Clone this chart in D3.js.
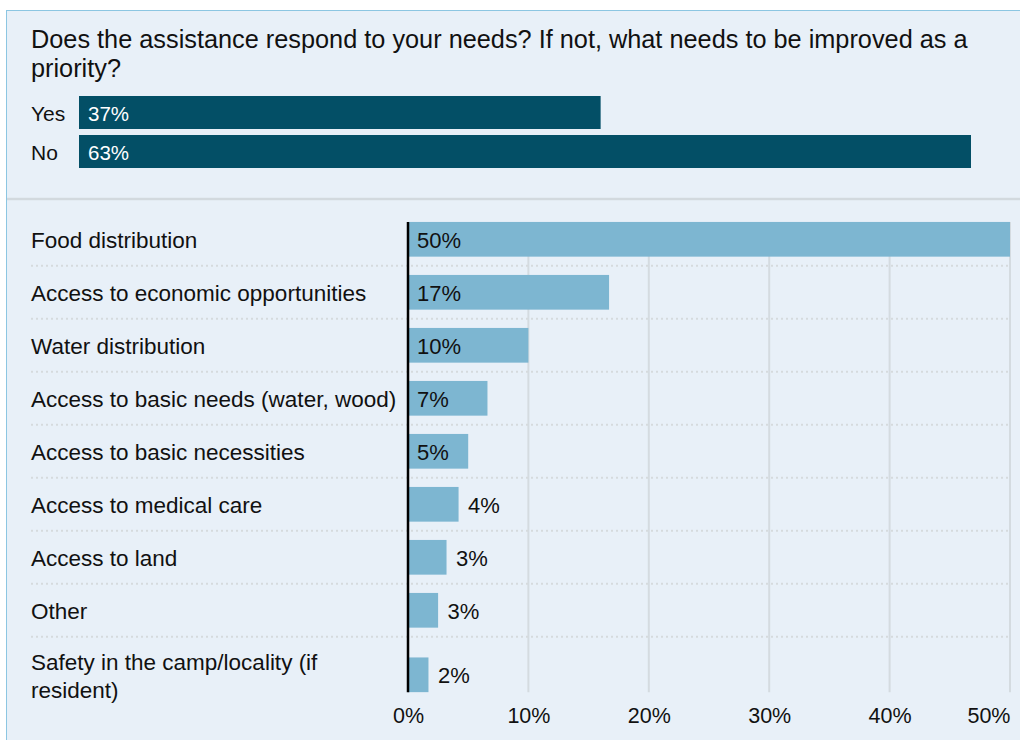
<!DOCTYPE html>
<html>
<head>
<meta charset="utf-8">
<script src="https://cdn.jsdelivr.net/npm/d3@7"></script>
<style>
  html, body { margin: 0; padding: 0; background: #ffffff; }
  svg { display: block; font-family: "Liberation Sans", Arial, sans-serif; }
</style>
</head>
<body>
<svg id="chart" width="1020" height="740"></svg>
<script>
// ---- data ----
const titleLines = ["Does the assistance respond to your needs? If not, what needs to be improved as a", "priority?"];
const answerCategories = ["Yes", "No"];
const answerValues = [36.9, 63.1];
const needCategories = [
  ["Food distribution"],
  ["Access to economic opportunities"],
  ["Water distribution"],
  ["Access to basic needs (water, wood)"],
  ["Access to basic necessities"],
  ["Access to medical care"],
  ["Access to land"],
  ["Other"],
  ["Safety in the camp/locality (if", "resident)"]
];
const needValues = [50, 16.7, 10, 6.6, 5, 4.2, 3.2, 2.5, 1.7];
const needLabels = ["50%", "17%", "10%", "7%", "5%", "4%", "3%", "3%", "2%"];
const tickValues = [0, 10, 20, 30, 40, 50];

// ---- chart ----
const svg = d3.select("#chart");
const W = 1020, H = 740;
const bg = "#e8f0f8";

svg.append("rect").attr("x", 6.5).attr("y", 10.5).attr("width", W + 20).attr("height", H + 20)
  .attr("fill", bg).attr("stroke", "#8cc6e2").attr("stroke-width", 1);

// title
svg.append("g").selectAll("text").data(titleLines).join("text")
  .attr("x", 31).attr("y", (d, i) => 47.5 + i * 29.5)
  .attr("font-size", 25.3).attr("fill", "#111")
  .text(d => d);

// top answers
const yTop = d3.scaleBand().domain(answerCategories).range([96, 168]).paddingInner(6 / 39);
const xTop = d3.scaleLinear().domain([0, d3.max(answerValues)]).range([79, 971]);
const topG = svg.append("g");
topG.selectAll("rect").data(answerValues).join("rect")
  .attr("x", xTop(0)).attr("y", (d, i) => yTop(answerCategories[i]))
  .attr("width", d => xTop(d) - xTop(0)).attr("height", yTop.bandwidth())
  .attr("fill", "#034f66");
topG.selectAll("text.cat").data(answerCategories).join("text").attr("class", "cat")
  .attr("x", 31).attr("y", d => yTop(d) + yTop.bandwidth() / 2 + 8)
  .attr("font-size", 21).attr("fill", "#111").text(d => d);
topG.selectAll("text.val").data(answerValues).join("text").attr("class", "val")
  .attr("x", xTop(0) + 9).attr("y", (d, i) => yTop(answerCategories[i]) + yTop.bandwidth() / 2 + 8)
  .attr("font-size", 20.5).attr("fill", "#ffffff").text(d => Math.round(d) + "%");

// separator
svg.append("line").attr("x1", 7).attr("x2", W).attr("y1", 199).attr("y2", 199)
  .attr("stroke", "#d2d9de").attr("stroke-width", 2.5);

// bottom chart
const names = needCategories.map(d => d.join(" "));
const rowH = needCategories.map(d => d.length === 1 ? 53 : 76);
const rowTops = [];
let acc = 212.8;
rowH.forEach(h => { rowTops.push(acc); acc += h; });
const yRow = d3.scaleOrdinal().domain(names).range(rowTops);
const barH = 34.7;
const x = d3.scaleLinear().domain([0, 50]).range([408, 1010]);
const barY = i => yRow(names[i]) + (rowH[i] - barH) / 2;
const chartTop = barY(0), chartBottom = barY(names.length - 1) + barH;

// gridlines
svg.append("g").selectAll("line").data(tickValues.slice(1)).join("line")
  .attr("x1", d => x(d)).attr("x2", d => x(d))
  .attr("y1", chartTop).attr("y2", chartBottom)
  .attr("stroke", "#d4dbe0").attr("stroke-width", 2);

// dotted row separators
svg.append("g").selectAll("line").data(rowTops.slice(1)).join("line")
  .attr("x1", 31).attr("x2", 1010).attr("y1", d => d).attr("y2", d => d)
  .attr("stroke", "#d5dadd").attr("stroke-width", 2).attr("stroke-dasharray", "2,3");

// bars
svg.append("g").selectAll("rect").data(needValues).join("rect")
  .attr("x", x(0)).attr("y", (d, i) => barY(i))
  .attr("width", d => x(d) - x(0)).attr("height", barH)
  .attr("fill", "#7db6d1");

// category labels
const labG = svg.append("g");
needCategories.forEach((lines, i) => {
  const c = barY(i) + barH / 2;
  const n = lines.length;
  lines.forEach((t, j) => {
    labG.append("text").attr("x", 31)
      .attr("y", c + 9 + (j - (n - 1) / 2) * 28)
      .attr("font-size", 22.5).attr("fill", "#111").text(t);
  });
});

// value labels
const valG = svg.append("g");
needValues.forEach((v, i) => {
  const c = barY(i) + barH / 2;
  const t = valG.append("text").attr("y", c + 8.5).attr("font-size", 22).attr("fill", "#111").text(needLabels[i]);
  const tw = t.node().getComputedTextLength();
  const bw = x(v) - x(0);
  if (tw + 20 < bw) t.attr("x", x(0) + 9);
  else t.attr("x", x(v) + 9.5);
});

// axis line
svg.append("line").attr("x1", x(0)).attr("x2", x(0)).attr("y1", chartTop).attr("y2", chartBottom)
  .attr("stroke", "#000").attr("stroke-width", 2.5);

// tick labels
const axis = d3.axisBottom(x).tickValues(tickValues).tickFormat(d => d + "%").tickSize(0).tickPadding(0);
const axG = svg.append("g").attr("transform", `translate(0, ${chartBottom + 16})`).call(axis);
axG.select(".domain").remove();
axG.selectAll("text").attr("font-size", 21.5).attr("fill", "#111")
  .attr("font-family", "Liberation Sans, Arial, sans-serif")
  .attr("dy", "0.71em");
axG.selectAll(".tick").filter(d => d === 50).select("text").attr("text-anchor", "end").attr("x", 0);
</script>
</body>
</html>
